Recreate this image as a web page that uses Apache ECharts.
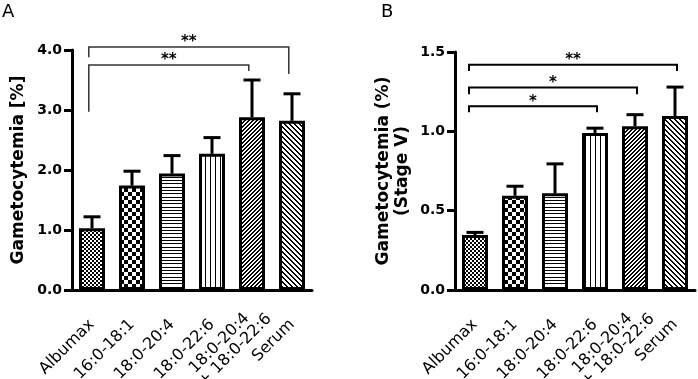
<!DOCTYPE html>
<html>
<head>
<meta charset="utf-8">
<script src="https://cdn.jsdelivr.net/npm/echarts@6/dist/echarts.min.js"></script>
<style>
  html, body { margin: 0; padding: 0; background: #fff; }
  #chart { width: 698px; height: 379px; }
</style>
</head>
<body>
<div id="chart"></div>
<script>
// categories shared by both panels
const categories = ['Albumax', '16:0-18:1', '18:0-20:4', '18:0-22:6', '18:0-20:4   \n+ 18:0-22:6', 'Serum'];

// panel A: total gametocytemia [%]
const meanA = [1.03, 1.74, 1.94, 2.27, 2.88, 2.82];
const errTopA = [1.22, 1.98, 2.24, 2.54, 3.50, 3.27];
const yTicksA = [0, 1, 2, 3, 4];

// panel B: stage V gametocytemia (%)
const meanB = [0.346, 0.594, 0.609, 0.99, 1.032, 1.097];
const errTopB = [0.363, 0.654, 0.795, 1.02, 1.105, 1.279];
const yTicksB = [0, 0.5, 1, 1.5];

// significance brackets: [fromIdx, toIdx, level, leftLegEnd, rightLegEnd]
const bracketsA = [[0, 5, 4.05, 3.88, 3.60], [0, 4, 3.75, 2.97, 3.65]];
const starsA = ['**', '**'];
const bracketsB = [[0, 3, 1.158, 1.12, 1.12], [0, 4, 1.276, 1.233, 1.233], [0, 5, 1.42, 1.38, 1.38]];
const starsB = ['*', '*', '**'];

const FONT = '"DejaVu Sans", Arial, sans-serif';

// small black/white tiles used as bar fills
function tile(w, h, isBlack) {
  const c = document.createElement('canvas');
  c.width = w; c.height = h;
  const ctx = c.getContext('2d');
  const img = ctx.createImageData(w, h);
  for (let y = 0; y < h; y++) {
    for (let x = 0; x < w; x++) {
      const v = isBlack(x, y) ? 0 : 255;
      const i = (y * w + x) * 4;
      img.data[i] = img.data[i + 1] = img.data[i + 2] = v;
      img.data[i + 3] = 255;
    }
  }
  ctx.putImageData(img, 0, 0);
  return { image: c, repeat: 'repeat' };
}

const fills = [
  tile(4, 4, (x, y) => ((x >> 1) + (y >> 1)) % 2 === 0),
  tile(8, 8, (x, y) => ((x >> 2) + (y >> 2)) % 2 === 0),
  tile(1, 10, (x, y) => y === 0 || y === 3 || y === 7),
  tile(5, 1, (x, y) => x === 0),
  tile(4, 4, (x, y) => (x + y) % 4 === 0 || (x + y) % 4 === 1),
  tile(5, 5, (x, y) => ((x - y + 10) % 5 === 0) || ((x - y + 10) % 5 === 1))
];

function barData(means) {
  return means.map((v, i) => ({ value: v, itemStyle: { color: fills[i] } }));
}

function errorSeries(means, tops, idx) {
  return {
    type: 'custom',
    xAxisIndex: idx, yAxisIndex: idx,
    data: means.map((m, i) => [i, m, tops[i]]),
    encode: { x: 0, y: [1, 2] },
    z: 1,
    renderItem(params, api) {
      const base = api.coord([api.value(0), api.value(1)]);
      const top = api.coord([api.value(0), api.value(2)]);
      const ls = { stroke: '#000', lineWidth: 3 };
      return {
        type: 'group',
        children: [
          { type: 'line', shape: { x1: base[0], y1: base[1], x2: top[0], y2: top[1] }, style: ls },
          { type: 'line', shape: { x1: top[0] - 8.5, y1: top[1], x2: top[0] + 8.5, y2: top[1] }, style: ls }
        ]
      };
    }
  };
}

function bracketSeries(brackets, stars, idx, opts) {
  return {
    type: 'custom',
    xAxisIndex: idx, yAxisIndex: idx,
    clip: false,
    data: brackets,
    encode: { x: 0, y: 2 },
    z: 5,
    renderItem(params, api) {
      const b = brackets[params.dataIndex];
      const band = api.size([1, 0])[0];
      const l = api.coord([b[0], b[2]]);
      const r = api.coord([b[1], b[2]]);
      const xl = l[0] + opts.leftShift * band;
      const xr = r[0] + opts.rightShift * band;
      const yl = api.coord([b[0], b[3]])[1];
      const yr = api.coord([b[1], b[4]])[1];
      const ls = { stroke: opts.color, lineWidth: opts.width, fill: null };
      return {
        type: 'group',
        children: [
          { type: 'polyline', shape: { points: [[xl, yl], [xl, l[1]], [xr, l[1]], [xr, yr]] }, style: ls },
          {
            type: 'text', x: (xl + xr) / 2, y: l[1] + 3,
            style: { text: stars[params.dataIndex], fontFamily: FONT, fontWeight: 'bold', fontSize: 15,
                     align: 'center', verticalAlign: 'bottom', fill: '#000' }
          }
        ]
      };
    }
  };
}

// the two-line label is nudged up along its slant so its second line stays inside the picture
const categoryItems = categories.map(c => c.indexOf('\n') >= 0
  ? { value: c, textStyle: { padding: [0, -16, 17, 0] } }
  : c);

function xAxis(idx) {
  return {
    type: 'category', gridIndex: idx, data: categoryItems,
    axisLine: { lineStyle: { color: '#000', width: 3 } },
    axisTick: { alignWithLabel: true, length: 7, lineStyle: { color: '#000', width: 3 } },
    axisLabel: { rotate: 45, interval: 0, margin: 32, color: '#000', fontFamily: FONT, fontSize: 16, lineHeight: 16 },
    splitLine: { show: false }
  };
}

function yAxis(idx, ticks, name, gap) {
  return {
    type: 'value', gridIndex: idx,
    min: ticks[0], max: ticks[ticks.length - 1], interval: ticks[1] - ticks[0],
    name: name, nameLocation: 'middle', nameGap: gap,
    nameTextStyle: { color: '#000', fontFamily: FONT, fontWeight: 'bold', fontSize: 17, lineHeight: 19 },
    axisLine: { show: true, lineStyle: { color: '#000', width: 3 } },
    axisTick: { show: true, length: 8, lineStyle: { color: '#000', width: 3 } },
    axisLabel: { margin: 10, color: '#000', fontFamily: FONT, fontWeight: 'bold', fontSize: 14,
                 formatter: v => v.toFixed(1) },
    splitLine: { show: false }
  };
}

const chart = echarts.init(document.getElementById('chart'), null, { renderer: 'canvas' });
chart.setOption({
  animation: false,
  backgroundColor: '#fff',
  title: [
    { text: 'A', left: 2, top: 3, padding: 0, textStyle: { fontFamily: FONT, fontWeight: 'normal', fontSize: 18, color: '#000' } },
    { text: 'B', left: 381, top: 3, padding: 0, textStyle: { fontFamily: FONT, fontWeight: 'normal', fontSize: 18, color: '#000' } }
  ],
  grid: [
    { left: 72, top: 50, width: 240, height: 240, containLabel: false, outerBoundsMode: 'none' },
    { left: 455, top: 52, width: 240, height: 238, containLabel: false, outerBoundsMode: 'none' }
  ],
  xAxis: [xAxis(0), xAxis(1)],
  yAxis: [yAxis(0, yTicksA, 'Gametocytemia [%]', 44), yAxis(1, yTicksB, 'Gametocytemia (%)\n(Stage V)', 43)],
  series: [
    { type: 'bar', xAxisIndex: 0, yAxisIndex: 0, data: barData(meanA), barWidth: 26, z: 2,
      itemStyle: { borderColor: '#000', borderWidth: 3 } },
    errorSeries(meanA, errTopA, 0),
    bracketSeries(bracketsA, starsA, 0, { leftShift: -0.08, rightShift: -0.08, color: '#333', width: 1.5 }),
    { type: 'bar', xAxisIndex: 1, yAxisIndex: 1, data: barData(meanB), barWidth: 26, z: 2,
      itemStyle: { borderColor: '#000', borderWidth: 3 } },
    errorSeries(meanB, errTopB, 1),
    bracketSeries(bracketsB, starsB, 1, { leftShift: -0.15, rightShift: 0.05, color: '#000', width: 2 })
  ]
});
</script>
</body>
</html>
